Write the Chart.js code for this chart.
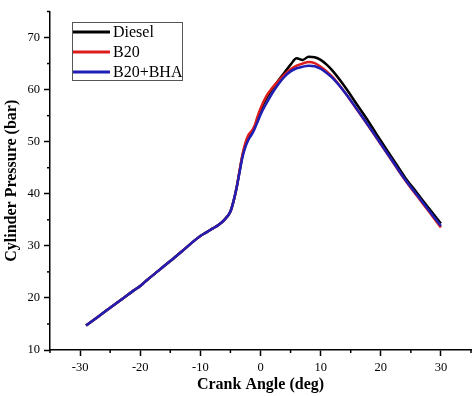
<!DOCTYPE html>
<html>
<head>
<meta charset="utf-8">
<script src="https://cdn.jsdelivr.net/npm/chart.js@4/dist/chart.umd.min.js"></script>
<style>
  html, body { margin: 0; padding: 0; background: #fff; }
  #wrap { width: 474px; height: 396px; position: relative; }
</style>
</head>
<body>
<div id="wrap"><canvas id="pressureChart"></canvas></div>
<script>
const angles = [-29, -27, -25, -23, -21, -20, -19, -17, -15, -13, -11, -10, -9, -8, -7, -6, -5, -4.5, -4, -3.5, -3, -2.5, -2, -1.5, -1, -0.5, 0, 1, 2, 3, 4, 5, 6, 7, 8, 9, 10, 11, 12, 14, 16, 18, 20, 22, 24, 26, 28, 30];

const diesel = [14.7, 16.4, 18.1, 19.8, 21.5, 22.3, 23.3, 25.2, 27.1, 29.0, 31.0, 31.9, 32.6, 33.3, 34.0, 35.0, 36.6, 38.5, 41.0, 44.2, 47.3, 49.5, 51.0, 51.8, 52.8, 54.4, 56.0, 58.4, 60.2, 61.8, 63.3, 64.8, 66.0, 65.7, 66.3, 66.2, 65.7, 64.8, 63.6, 60.6, 57.2, 53.8, 50.2, 46.7, 43.2, 40.2, 37.2, 34.3];
const b20 = [14.7, 16.4, 18.1, 19.8, 21.5, 22.3, 23.3, 25.2, 27.1, 29.0, 31.0, 31.9, 32.6, 33.3, 34.0, 35.0, 36.6, 38.5, 41.0, 44.3, 47.5, 49.8, 51.3, 52.0, 53.0, 54.8, 56.4, 58.8, 60.4, 61.7, 62.9, 63.9, 64.6, 65.0, 65.3, 65.1, 64.4, 63.5, 62.4, 59.5, 56.2, 52.9, 49.5, 46.1, 42.7, 39.6, 36.6, 33.5];
const b20bha = [14.7, 16.4, 18.1, 19.8, 21.5, 22.3, 23.3, 25.2, 27.1, 29.0, 31.0, 31.9, 32.6, 33.3, 34.0, 35.0, 36.6, 38.5, 41.0, 44.0, 47.0, 49.0, 50.4, 51.3, 52.4, 53.8, 55.2, 57.4, 59.4, 61.1, 62.5, 63.5, 64.1, 64.4, 64.6, 64.5, 64.0, 63.2, 62.2, 59.5, 56.3, 53.0, 49.6, 46.2, 42.8, 39.8, 36.8, 33.8];

const seriesNames = ["Diesel", "B20", "B20+BHA"];
const xTicks = [-30, -20, -10, 0, 10, 20, 30];
const yTicks = [10, 20, 30, 40, 50, 60, 70];

const serif = "'Liberation Serif', 'Times New Roman', serif";

const toPoints = vals => angles.map((a, i) => ({ x: a, y: vals[i] }));

// minor ticks + legend box drawn inside the plot
const extras = {
  id: "extras",
  afterDraw(chart) {
    const ctx = chart.ctx;
    const xs = chart.scales.x, ys = chart.scales.y;
    ctx.save();
    ctx.strokeStyle = "#000";
    ctx.lineWidth = 1.5;
    for (let v = -35; v <= 35; v += 5) {
      if (v % 10 === 0) continue;
      const px = xs.getPixelForValue(v);
      ctx.beginPath();
      ctx.moveTo(px, xs.top);
      ctx.lineTo(px, xs.top + 3);
      ctx.stroke();
    }
    for (let v = 15; v <= 75; v += 10) {
      const py = ys.getPixelForValue(v);
      ctx.beginPath();
      ctx.moveTo(ys.right, py);
      ctx.lineTo(ys.right - 3, py);
      ctx.stroke();
    }

    // legend
    ctx.strokeStyle = "#555";
    ctx.lineWidth = 1;
    ctx.strokeRect(72.5, 22.5, 110, 58);
    ctx.font = "16px " + serif;
    ctx.textBaseline = "middle";
    ctx.fillStyle = "#000";
    chart.data.datasets.forEach((ds, i) => {
      const y = 32 + i * 20;
      ctx.strokeStyle = ds.borderColor;
      ctx.lineWidth = 3;
      ctx.beginPath();
      ctx.moveTo(73, y);
      ctx.lineTo(110, y);
      ctx.stroke();
      ctx.fillText(ds.label, 113, y + 1);
    });
    ctx.restore();
  }
};

new Chart(document.getElementById("pressureChart"), {
  type: "line",
  data: {
    datasets: [
      { label: seriesNames[0], data: toPoints(diesel), borderColor: "#000000", order: 2 },
      { label: seriesNames[1], data: toPoints(b20), borderColor: "#dd1c1c", order: 1 },
      { label: seriesNames[2], data: toPoints(b20bha), borderColor: "#1f1fb5", order: 0 }
    ]
  },
  options: {
    responsive: true,
    maintainAspectRatio: false,
    animation: false,
    layout: { padding: { top: 3, right: 3, left: 0, bottom: 0 } },
    elements: {
      point: { radius: 0 },
      line: { borderWidth: 2.5, cubicInterpolationMode: "monotone", fill: false }
    },
    plugins: {
      legend: { display: false },
      tooltip: { enabled: false }
    },
    scales: {
      x: {
        type: "linear",
        min: -35,
        max: 35,
        afterBuildTicks: s => { s.ticks = xTicks.map(v => ({ value: v })); },
        afterFit: s => { s.height = 46; },
        grid: { drawOnChartArea: false, tickLength: 6, tickColor: "#000", tickWidth: 1.5 },
        border: { color: "#000", width: 1.5 },
        ticks: { color: "#000", padding: 4, font: { family: serif, size: 12.5 }, maxRotation: 0 },
        title: { display: true, text: "Crank Angle (deg)", color: "#000", padding: { top: 0, bottom: 2 }, font: { family: serif, size: 16, weight: "bold" } }
      },
      y: {
        min: 10,
        max: 75,
        afterBuildTicks: s => { s.ticks = yTicks.map(v => ({ value: v })); },
        afterFit: s => { s.width = 50; },
        grid: { drawOnChartArea: false, tickLength: 6, tickColor: "#000", tickWidth: 1.5 },
        border: { color: "#000", width: 1.5 },
        ticks: { color: "#000", padding: 4, font: { family: serif, size: 12.5 } },
        title: { display: true, text: "Cylinder Pressure (bar)", color: "#000", padding: { top: 2, bottom: 0 }, font: { family: serif, size: 16, weight: "bold" } }
      }
    }
  },
  plugins: [extras]
});
</script>
</body>
</html>
